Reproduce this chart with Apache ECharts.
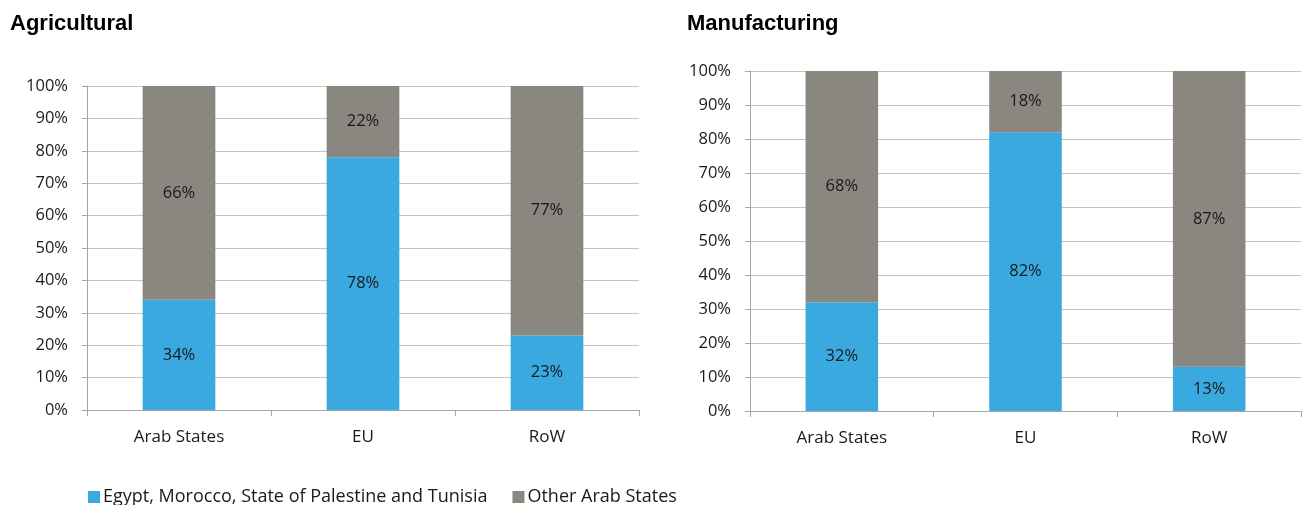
<!DOCTYPE html>
<html>
<head>
<meta charset="utf-8">
<script src="https://cdn.jsdelivr.net/npm/echarts@6/dist/echarts.min.js"></script>
<style>
  html, body { margin: 0; padding: 0; background: #fff; }
  #main { width: 1303px; height: 505px; }
</style>
</head>
<body>
<div id="main"></div>
<script>
var categories = ['Arab States', 'EU', 'RoW'];
var seriesNames = ['Egypt, Morocco, State of Palestine and Tunisia', 'Other Arab States'];
var agriFocus = [34, 78, 23];
var agriOther = [66, 22, 77];
var manuFocus = [32, 82, 13];
var manuOther = [68, 18, 87];
var panelTitles = ['Agricultural', 'Manufacturing'];

var blue = '#3aa9e0';
var grey = '#8a8680';
var font = '"Open Sans", "Noto Sans", sans-serif';

var myChart = echarts.init(document.getElementById('main'));

function xAxisFor(idx) {
    return {
        type: 'category',
        gridIndex: idx,
        data: categories,
        axisLine: { lineStyle: { color: '#a6a6a6' } },
        axisTick: { show: true, length: 6, lineStyle: { color: '#a6a6a6' } },
        axisLabel: { color: '#1a1a1a', fontSize: 17, fontFamily: font, margin: 19 }
    };
}
function yAxisFor(idx) {
    return {
        type: 'value',
        gridIndex: idx,
        min: 0,
        max: 100,
        interval: 10,
        axisLine: { show: true, lineStyle: { color: '#a6a6a6' } },
        axisTick: { show: true, length: 5, lineStyle: { color: '#a6a6a6' } },
        splitLine: { lineStyle: { color: '#c4c4c4' } },
        axisLabel: { color: '#1a1a1a', fontSize: 16.5, fontFamily: font, margin: 19, formatter: '{value}%' }
    };
}
function barFor(name, data, color, idx) {
    return {
        name: name,
        type: 'bar',
        stack: 'p' + idx,
        xAxisIndex: idx,
        yAxisIndex: idx,
        barWidth: '39.5%',
        data: data,
        itemStyle: { color: color },
        label: {
            show: true,
            position: 'inside',
            color: '#1a1a1a',
            fontSize: 16.5,
            fontFamily: font,
            formatter: '{c}%'
        }
    };
}

var option = {
    animation: false,
    title: [
        { text: panelTitles[0], left: 5, top: 8, textStyle: { fontSize: 22, fontWeight: 'bold', fontFamily: 'Arial, "Liberation Sans", sans-serif', color: '#000' } },
        { text: panelTitles[1], left: 682, top: 8, textStyle: { fontSize: 22, fontWeight: 'bold', fontFamily: 'Arial, "Liberation Sans", sans-serif', color: '#000' } }
    ],
    legend: {
        left: 83,
        top: 483,
        itemWidth: 12,
        itemHeight: 12,
        itemGap: 25,
        icon: 'rect',
        data: seriesNames,
        textStyle: { fontSize: 18, fontFamily: font, color: '#1a1a1a', padding: [0, 0, 0, -2] }
    },
    grid: [
        { left: 87, top: 86, width: 552, height: 324 },
        { left: 750, top: 71, width: 551, height: 340 }
    ],
    xAxis: [xAxisFor(0), xAxisFor(1)],
    yAxis: [yAxisFor(0), yAxisFor(1)],
    series: [
        barFor(seriesNames[0], agriFocus, blue, 0),
        barFor(seriesNames[1], agriOther, grey, 0),
        barFor(seriesNames[0], manuFocus, blue, 1),
        barFor(seriesNames[1], manuOther, grey, 1)
    ]
};
myChart.setOption(option);
</script>
</body>
</html>
